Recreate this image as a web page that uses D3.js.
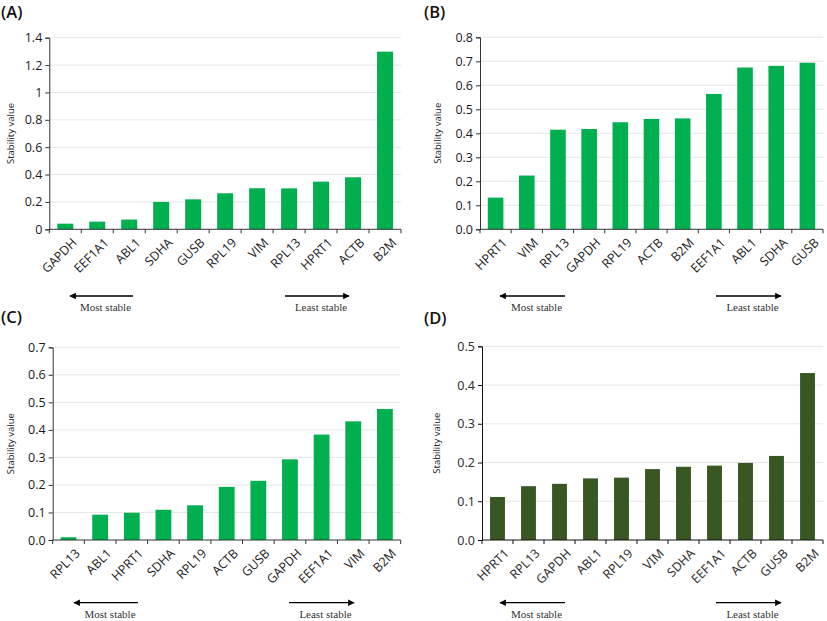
<!DOCTYPE html>
<html><head><meta charset="utf-8">
<script src="https://cdnjs.cloudflare.com/ajax/libs/d3/7.8.5/d3.min.js"></script>
<style>body{margin:0;background:#fff}svg{display:block}</style>
</head><body>
<svg id="c" width="827" height="621"></svg>
<script>
// ---- data ----
const catsA = ["GAPDH","EEF1A1","ABL1","SDHA","GUSB","RPL19","VIM","RPL13","HPRT1","ACTB","B2M"];
const valsA = [0.041,0.056,0.071,0.200,0.219,0.263,0.300,0.299,0.348,0.380,1.298];
const ticksA = [0,0.2,0.4,0.6,0.8,1,1.2,1.4];

const catsB = ["HPRT1","VIM","RPL13","GAPDH","RPL19","ACTB","B2M","EEF1A1","ABL1","SDHA","GUSB"];
const valsB = [0.132,0.224,0.415,0.418,0.446,0.460,0.462,0.564,0.674,0.681,0.694];
const ticksB = [0,0.1,0.2,0.3,0.4,0.5,0.6,0.7,0.8];

const catsC = ["RPL13","ABL1","HPRT1","SDHA","RPL19","ACTB","GUSB","GAPDH","EEF1A1","VIM","B2M"];
const valsC = [0.010,0.092,0.099,0.110,0.126,0.193,0.215,0.293,0.383,0.431,0.476];
const ticksC = [0,0.1,0.2,0.3,0.4,0.5,0.6,0.7];

const catsD = ["HPRT1","RPL13","GAPDH","ABL1","RPL19","VIM","SDHA","EEF1A1","ACTB","GUSB","B2M"];
const valsD = [0.111,0.139,0.145,0.159,0.161,0.183,0.189,0.192,0.199,0.217,0.431];
const ticksD = [0,0.1,0.2,0.3,0.4,0.5];

const panelLabels = ["(A)","(B)","(C)","(D)"];
const yTitle = "Stability value";
const mostText = "Most stable", leastText = "Least stable";

// ---- layout ----
const svg = d3.select("#c");
const defs = svg.append("defs");
defs.append("marker").attr("id","ah").attr("viewBox","0 0 10 10").attr("refX",9).attr("refY",5)
  .attr("markerWidth",5).attr("markerHeight",5).attr("orient","auto-start-reverse")
  .append("path").attr("d","M0,0L10,5L0,10z").attr("fill","#000");

const panels = [
  {cats:catsA, vals:valsA, ticks:ticksA, fmt:d=>String(d), label:panelLabels[0],
   lx:1, ly:18, x0:49.3, x1:401, y0:229.3, y1:37.7, titleX:11, color:"#00b050", axis:"#333", tickCol:"#1a1a1a",
   arrowY:296, textY:311, most:[133,70], least:[285,349], pad:0.5, font:"'Open Sans', sans-serif"},
  {cats:catsB, vals:valsB, ticks:ticksB, fmt:d3.format(".1f"), label:panelLabels[1],
   lx:424, ly:18, x0:480, x1:823, y0:229.3, y1:37.3, titleX:438, color:"#00b050", axis:"#333", tickCol:"#1a1a1a",
   arrowY:296, textY:311, most:[565,500], least:[716,781], pad:0.5, font:"'Open Sans', sans-serif"},
  {cats:catsC, vals:valsC, ticks:ticksC, fmt:d3.format(".1f"), label:panelLabels[2],
   lx:1, ly:323, x0:52.7, x1:400.7, y0:540, y1:347.3, titleX:11, color:"#00b050", axis:"#333", tickCol:"#1a1a1a",
   arrowY:602.7, textY:618, most:[138,74], least:[289,354], pad:0.5, font:"'Open Sans', sans-serif"},
  {cats:catsD, vals:valsD, ticks:ticksD, fmt:d3.format(".1f"), label:panelLabels[3],
   lx:424, ly:324, x0:482, x1:823, y0:540, y1:346.3, titleX:437, color:"#385723", axis:"#111", tickCol:"#333",
   arrowY:602.7, textY:618, most:[565,500], least:[716,781], pad:0.52, font:"'Noto Sans', sans-serif"}
];

panels.forEach(p => {
  const g = svg.append("g");
  const x = d3.scaleBand().domain(p.cats).range([p.x0, p.x1]).paddingInner(p.pad).paddingOuter(p.pad/2);
  const ymax = p.ticks[p.ticks.length-1];
  const y = d3.scaleLinear().domain([0, ymax]).range([p.y0, p.y1]);

  // panel label
  g.append("text").attr("x", p.lx).attr("y", p.ly).text(p.label)
    .attr("font-family","'Open Sans', sans-serif").attr("font-size",16.5).attr("font-weight",600).attr("fill","#111");

  // gridlines
  g.append("g").selectAll("line").data(p.ticks.slice(1)).join("line")
    .attr("x1", p.x0).attr("x2", p.x1).attr("y1", d=>y(d)).attr("y2", d=>y(d))
    .attr("stroke","#e6e6e6").attr("stroke-width",1);

  // bars
  g.append("g").selectAll("rect").data(p.cats).join("rect")
    .attr("x", d=>x(d)).attr("width", x.bandwidth())
    .attr("y", (d,i)=>y(p.vals[i])).attr("height", (d,i)=>p.y0 - y(p.vals[i]))
    .attr("fill", p.color);

  // y axis
  const ya = g.append("g").attr("transform",`translate(${p.x0},0)`)
    .call(d3.axisLeft(y).tickValues(p.ticks).tickFormat(p.fmt).tickSize(4).tickPadding(3));
  ya.select(".domain").attr("stroke", p.axis);
  ya.selectAll(".tick line").attr("stroke", p.axis);
  ya.selectAll("text").attr("font-family", p.font).attr("font-size",12.5).attr("fill",p.tickCol);

  // x axis line
  g.append("line").attr("x1",p.x0).attr("x2",p.x1).attr("y1",p.y0).attr("y2",p.y0)
    .attr("stroke",p.axis).attr("stroke-width",1);
  // category boundary ticks
  const bounds = d3.range(p.cats.length+1).map(i => p.x0 + i*x.step());
  g.append("g").selectAll("line").data(bounds).join("line")
    .attr("x1",d=>d).attr("x2",d=>d).attr("y1",p.y0).attr("y2",p.y0+4)
    .attr("stroke",p.axis);
  // x labels
  g.append("g").selectAll("text").data(p.cats).join("text")
    .attr("transform", d=>`translate(${x(d)+x.bandwidth()/2+6},${p.y0+8}) rotate(-45)`)
    .attr("text-anchor","end").attr("dy","0.7em")
    .attr("font-family", p.font).attr("font-size",12.5).attr("fill",p.tickCol).text(d=>d);

  // y title
  g.append("text").attr("transform",`translate(${p.titleX},${(p.y0+p.y1)/2}) rotate(-90)`)
    .attr("text-anchor","middle").attr("dy","0.35em")
    .attr("font-family","'Open Sans', sans-serif").attr("font-size",9.5).attr("fill","#222").text(yTitle);

  // arrows
  [[p.most, mostText],[p.least, leastText]].forEach(([ax, t]) => {
    g.append("line").attr("x1",ax[0]).attr("x2",ax[1]).attr("y1",p.arrowY).attr("y2",p.arrowY)
      .attr("stroke","#000").attr("stroke-width",1.3).attr("marker-end","url(#ah)");
    g.append("text").attr("x",(ax[0]+ax[1])/2 + 4).attr("y",p.textY).attr("text-anchor","middle")
      .attr("font-family","'Liberation Serif', serif").attr("font-size",11).attr("fill","#333").text(t);
  });
});
</script>
</body></html>
